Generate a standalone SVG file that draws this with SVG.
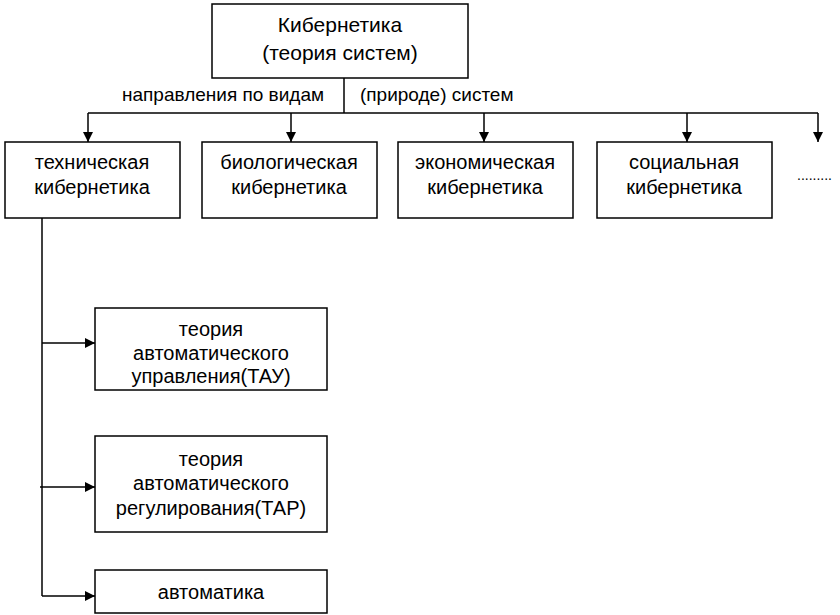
<svg xmlns="http://www.w3.org/2000/svg" width="840" height="615" viewBox="0 0 840 615">
<style>
.box{fill:#fff;stroke:#000;stroke-width:1.5}
.c{fill:none;stroke:#000;stroke-width:1.5}
text{font-family:"Liberation Sans",Arial,sans-serif;font-size:20px;fill:#000}
.m{text-anchor:middle}
.lbl{font-size:19px}
.r{font-size:21px}
.dots{font-size:14px}
</style>
<defs>
<marker id="ah" viewBox="0 0 10 10" refX="10" refY="5" markerWidth="10" markerHeight="10" markerUnits="userSpaceOnUse" orient="auto">
<path d="M0,0 L10,5 L0,10 Z" fill="#000"/>
</marker>
</defs>
<rect width="840" height="615" fill="#fff"/>
<g id="connectors">
<path class="c" d="M344,78 V113"/>
<path class="c" d="M88,113 H818"/>
<path class="c" d="M88,113 V142" marker-end="url(#ah)"/>
<path class="c" d="M291,113 V142" marker-end="url(#ah)"/>
<path class="c" d="M484,113 V142" marker-end="url(#ah)"/>
<path class="c" d="M687,113 V142" marker-end="url(#ah)"/>
<path class="c" d="M818,113 V142" marker-end="url(#ah)"/>
<path class="c" d="M42,218 V596"/>
<path class="c" d="M42,343 H95" marker-end="url(#ah)"/>
<path class="c" d="M40,487 H95" marker-end="url(#ah)"/>
<path class="c" d="M42,596 H95" marker-end="url(#ah)"/>
</g>
<g id="labels">
<text class="lbl" x="122" y="101">направления по видам</text>
<text class="lbl" x="360" y="101">(природе) систем</text>
</g>
<g id="root">
<rect class="box" x="212" y="4" width="256" height="74"/>
<text class="m r" x="340" y="32">Кибернетика</text>
<text class="m r" x="340" y="60">(теория систем)</text>
</g>
<g id="tech">
<rect class="box" x="5" y="142" width="175" height="76"/>
<text class="m" x="92" y="169">техническая</text>
<text class="m" x="92" y="194">кибернетика</text>
</g>
<g id="bio">
<rect class="box" x="202" y="142" width="175" height="76"/>
<text class="m" x="289" y="169">биологическая</text>
<text class="m" x="289" y="194">кибернетика</text>
</g>
<g id="econ">
<rect class="box" x="398" y="142" width="175" height="76"/>
<text class="m" x="485" y="169">экономическая</text>
<text class="m" x="485" y="194">кибернетика</text>
</g>
<g id="social">
<rect class="box" x="597" y="142" width="175" height="76"/>
<text class="m" x="684" y="169">социальная</text>
<text class="m" x="684" y="194">кибернетика</text>
</g>
<g id="more">
<text class="dots" x="797" y="180">.........</text>
</g>
<g id="tau">
<rect class="box" x="95" y="308" width="232" height="82"/>
<text class="m" x="211" y="336">теория</text>
<text class="m" x="211" y="360">автоматического</text>
<text class="m" x="211" y="383">управления(ТАУ)</text>
</g>
<g id="tar">
<rect class="box" x="95" y="436" width="232" height="96"/>
<text class="m" x="211" y="466">теория</text>
<text class="m" x="211" y="490">автоматического</text>
<text class="m" x="211" y="515">регулирования(ТАР)</text>
</g>
<g id="auto">
<rect class="box" x="95" y="570" width="232" height="43"/>
<text class="m" x="211" y="599">автоматика</text>
</g>
</svg>
